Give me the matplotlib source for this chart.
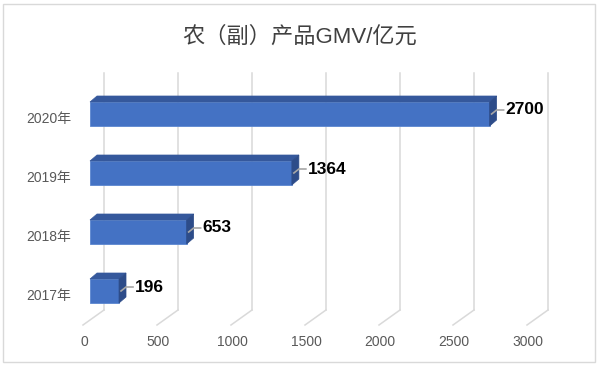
import matplotlib
matplotlib.use('Agg')
import matplotlib.pyplot as plt
from matplotlib.patches import Polygon, Rectangle

plt.rcParams['font.family'] = ['Liberation Sans', 'Noto Sans CJK SC', 'DejaVu Sans']

# data
years = ['2017年', '2018年', '2019年', '2020年']
gmv = [196, 653, 1364, 2700]
xticks = [0, 500, 1000, 1500, 2000, 2500, 3000]
title = '农（副）产品GMV/亿元'

fig = plt.figure(figsize=(5.99, 3.71), dpi=100)

# back wall of the pseudo-3d plot area
ax = fig.add_axes([104 / 599, 61 / 371, 444 / 599, 237 / 371])
xmin, xmax = 0, 3000
ylo = -19 / 59
yhi = ylo + 237 / 59
ax.set_xlim(xmin, xmax)
ax.set_ylim(ylo, yhi)
ax.axis('off')

XPX = (xmax - xmin) / 444   # data units per pixel
YPX = (yhi - ylo) / 237

grid_c = '#d9d9d9'
for t in xticks:
    ax.plot([t, t], [ylo, yhi], color=grid_c, lw=1.1, zorder=1, clip_on=False)
    ax.plot([t, t - 21 * XPX], [ylo, ylo - 15 * YPX], color=grid_c, lw=1.1,
            zorder=1, clip_on=False)
    ax.text(t - 20 * XPX, ylo - 32 * YPX, str(t), ha='center', va='center',
            fontsize=10, color='#595959', clip_on=False)

# bars: front face, top face, right face
shift = -14 * XPX
h = 24 * YPX
dx = 7 * XPX
dy = 6 * YPX
front_c = '#4472c4'
top_c = '#35589c'
side_c = '#2d4c89'

for i, (lab, v) in enumerate(zip(years, gmv)):
    x0 = shift
    x1 = shift + v
    yb = i - h / 2
    yt = i + h / 2
    ax.add_patch(Rectangle((x0, yb), v, h, facecolor=front_c,
                           edgecolor='#5b86d0', lw=0.6, zorder=3, clip_on=False))
    ax.add_patch(Polygon([(x0, yt), (x1, yt), (x1 + dx, yt + dy), (x0 + dx, yt + dy)],
                         closed=True, facecolor=top_c, edgecolor=top_c, lw=0.5,
                         zorder=3, clip_on=False))
    ax.add_patch(Polygon([(x1, yb), (x1 + dx, yb + dy), (x1 + dx, yt + dy), (x1, yt)],
                         closed=True, facecolor=side_c, edgecolor=side_c, lw=0.5,
                         zorder=3, clip_on=False))

    # value label with leader line
    lx0 = x1 + 2 * XPX
    ly0 = i
    lx1 = x1 + 14 * XPX
    ly1 = i + 4 * YPX
    ax.plot([lx0, lx0 + 5 * XPX, lx1], [ly0, ly1, ly1], color='#a6a6a6', lw=1.2,
            zorder=4, clip_on=False)
    ax.text(x1 + 16 * XPX, i + 4 * YPX, str(v), ha='left', va='center',
            fontsize=12.5, fontweight='bold', color='black', zorder=5, clip_on=False)

    # category label
    ax.text(-33 * XPX, i - 5 * YPX, lab, ha='right', va='center',
            fontsize=10, color='#595959', clip_on=False)

fig.text(0.5, 1 - 37 / 371, title, ha='center', va='center', fontsize=16,
         color='#404040')

fig.patches.append(Rectangle((3 / 599, 9 / 371), 592 / 599, 358 / 371,
                             transform=fig.transFigure, fill=False,
                             edgecolor='#d9d9d9', lw=1))

fig.savefig('out.png', dpi=100)
